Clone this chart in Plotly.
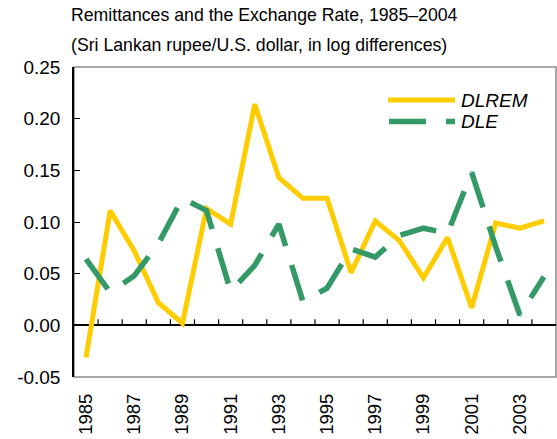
import plotly.graph_objects as go

years = ["1985", "1986", "1987", "1988", "1989", "1990", "1991", "1992", "1993", "1994",
         "1995", "1996", "1997", "1998", "1999", "2000", "2001", "2002", "2003", "2004"]
dlrem = [-0.031, 0.111, 0.072, 0.022, 0.002, 0.113, 0.098, 0.214, 0.143, 0.123,
         0.123, 0.051, 0.101, 0.082, 0.046, 0.085, 0.017, 0.099, 0.094, 0.101]
dle = [0.064, 0.032, 0.048, 0.079, 0.123, 0.111, 0.033, 0.058, 0.098, 0.023,
       0.036, 0.074, 0.066, 0.087, 0.094, 0.089, 0.148, 0.076, 0.010, 0.047]
x_tick_labels = years[::2]
y_tick_vals = [-0.05, 0.0, 0.05, 0.10, 0.15, 0.20, 0.25]
y_tick_text = ["-0.05", "0.00", "0.05", "0.10", "0.15", "0.20", "0.25"]
series_names = ["DLREM", "DLE"]

YELLOW = "#FFCC00"
GREEN = "#339966"
FONT = "Liberation Sans, Arial, sans-serif"
DASH = "37px,20px"

W, H = 557, 439
L, R, T, B = 74, 1, 67, 62
pw, ph = W - L - R, H - T - B

def px_x(p):
    return (p - L) / pw

def px_y(p):
    return (H - B - p) / ph

fig = go.Figure()
fig.add_trace(go.Scatter(x=years, y=dlrem, mode="lines", name=series_names[0],
                         line=dict(color=YELLOW, width=5), showlegend=False,
                         hoverinfo="x+y"))
fig.add_trace(go.Scatter(x=years, y=dle, mode="lines", name=series_names[1],
                         line=dict(color=GREEN, width=5.5, dash=DASH), showlegend=False,
                         hoverinfo="x+y"))

ymin, ymax = y_tick_vals[0], y_tick_vals[-1]

# category-boundary tick marks sitting on the zero line (axis decoration)
tick_shapes = [
    dict(type="line", xref="x", yref="y", x0=i + 0.5, x1=i + 0.5,
         ysizemode="pixel", yanchor=0, y0=0, y1=6,
         line=dict(color="black", width=1.2), layer="below")
    for i in range(len(years) - 1)
]

fig.update_layout(
    width=W, height=H,
    margin=dict(l=L, r=R, t=T, b=B, pad=0, autoexpand=False),
    paper_bgcolor="white", plot_bgcolor="white",
    font=dict(family=FONT, color="black", size=19),
    xaxis=dict(type="category", range=[-0.5, len(years) - 0.5], domain=[0, 1],
               tickmode="array", tickvals=x_tick_labels, ticktext=x_tick_labels,
               tickangle=-90, ticks="", showline=False, showgrid=False, zeroline=False,
               tickfont=dict(size=18.5), ticklabelstandoff=12, automargin=False),
    yaxis=dict(range=[ymin, ymax], domain=[0, 1], tickmode="array",
               tickvals=y_tick_vals, ticktext=y_tick_text,
               ticks="inside", ticklen=6, tickwidth=1.2, tickcolor="black",
               showline=True, linecolor="black", linewidth=1.5,
               zeroline=True, zerolinecolor="black", zerolinewidth=1.5,
               showgrid=False, tickfont=dict(size=19), ticklabelstandoff=8,
               automargin=False),
    shapes=[
        dict(type="rect", xref="paper", yref="paper", x0=0, x1=1, y0=0, y1=1,
             line=dict(color="#8c8c8c", width=1.5), layer="below"),
        dict(type="line", xref="paper", yref="paper", x0=px_x(388), x1=px_x(455),
             y0=px_y(100), y1=px_y(100), line=dict(color=YELLOW, width=5)),
        dict(type="line", xref="paper", yref="paper", x0=px_x(389), x1=px_x(455),
             y0=px_y(121.5), y1=px_y(121.5), line=dict(color=GREEN, width=5.5, dash=DASH)),
    ] + tick_shapes,
    annotations=[
        dict(xref="paper", yref="paper", x=px_x(459), y=px_y(100), xanchor="left",
             yanchor="middle", text="<i>" + series_names[0] + "</i>", showarrow=False,
             font=dict(size=19)),
        dict(xref="paper", yref="paper", x=px_x(459), y=px_y(122), xanchor="left",
             yanchor="middle", text="<i>" + series_names[1] + "</i>", showarrow=False,
             font=dict(size=19)),
        dict(xref="paper", yref="paper", x=px_x(69), y=px_y(15), xanchor="left",
             yanchor="middle", text="Remittances and the Exchange Rate, 1985\u20132004",
             showarrow=False, font=dict(size=17.7)),
        dict(xref="paper", yref="paper", x=px_x(69), y=px_y(45), xanchor="left",
             yanchor="middle", text="(Sri Lankan rupee/U.S. dollar, in log differences)",
             showarrow=False, font=dict(size=17.7)),
    ],
)

fig.write_html("out.html", config={"displayModeBar": False},
               post_script="document.body.style.margin='0';")
